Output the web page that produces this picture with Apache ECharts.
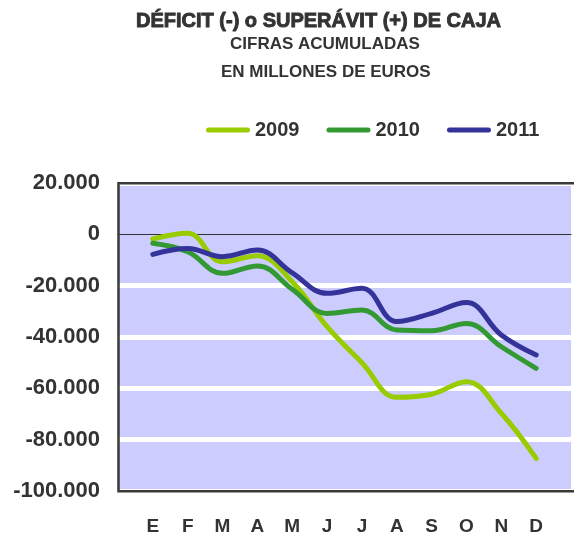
<!DOCTYPE html>
<html>
<head>
<meta charset="utf-8">
<script src="https://cdn.jsdelivr.net/npm/echarts@6/dist/echarts.min.js"></script>
<style>
  html, body { margin: 0; padding: 0; background: #fff; }
  #myChart { width: 574px; height: 536px; }
</style>
</head>
<body>
<div id="myChart"></div>
<script>
// meses
var months = ["E", "F", "M", "A", "M", "J", "J", "A", "S", "O", "N", "D"];
// millones de euros, cifras acumuladas
var data2009 = [-1800, 400, -10700, -8300, -18500, -36000, -50000, -63500, -62300, -57400, -69700, -87300];
var data2010 = [-3500, -6800, -15200, -12300, -21400, -30800, -29500, -37300, -37600, -34700, -43800, -52200];
var data2011 = [-7800, -5500, -8700, -6100, -15000, -23000, -21000, -34000, -30800, -26600, -39200, -47000];
var yTicks = [-100000, -80000, -60000, -40000, -20000, 0, 20000];

var font = "Liberation Sans, Arial, sans-serif";
var pill = "path://M2.5,0 L41.5,0 A2.5,2.5 0 0 1 41.5,5 L2.5,5 A2.5,2.5 0 0 1 2.5,0 Z";

function pairs(arr) {
  return arr.map(function (v, i) { return [i + 1, v]; });
}
function fmt(v) {
  if (v === 0) return "0";
  var s = Math.abs(v).toString().replace(/\B(?=(\d{3})+(?!\d))/g, ".");
  return (v < 0 ? "-" : "") + s;
}
function line(name, arr, color) {
  return {
    name: name,
    type: "line",
    data: pairs(arr),
    smooth: 0.4,
    showSymbol: false,
    symbol: "none",
    z: 3,
    lineStyle: { color: color, width: 5, cap: "round", join: "round" },
    itemStyle: { color: color }
  };
}

// la linea blanca del 0 no se dibuja, ahi va el eje
var gridColors = yTicks.map(function (t) { return t === 0 ? "#ccccff" : "#fff"; });

var myChart = echarts.init(document.getElementById("myChart"));
myChart.setOption({
  backgroundColor: "#fff",
  animation: false,
  title: [
    { text: "DÉFICIT (-) o SUPERÁVIT (+) DE CAJA", left: 136, top: 11, padding: 0,
      textStyle: { fontFamily: font, fontSize: 20, fontWeight: 900, color: "#333",
        textBorderColor: "#333", textBorderWidth: 0.9 } },
    { text: "CIFRAS ACUMULADAS", left: 230, top: 36, padding: 0,
      textStyle: { fontFamily: font, fontSize: 17, fontWeight: "bold", color: "#333" } },
    { text: "EN MILLONES DE EUROS", left: 221, top: 64, padding: 0,
      textStyle: { fontFamily: font, fontSize: 17, fontWeight: "bold", color: "#333" } }
  ],
  legend: {
    data: ["2009", "2010", "2011"],
    left: 206,
    top: 120,
    padding: 0,
    icon: pill,
    itemWidth: 44,
    itemHeight: 5,
    itemGap: 27,
    textStyle: { fontFamily: font, fontSize: 20, fontWeight: "bold", color: "#333" }
  },
  grid: {
    left: 118, top: 183, right: -4, bottom: 45,
    show: true, backgroundColor: "#ccccff", borderWidth: 0
  },
  xAxis: [
    {
      type: "value", min: 0, max: 13, interval: 1,
      axisLine: { show: false, onZero: false }, axisTick: { show: false }, splitLine: { show: false },
      axisLabel: {
        margin: 26,
        fontFamily: font, fontSize: 19, fontWeight: "bold", color: "#333",
        formatter: function (v) { return months[v - 1] || ""; }
      }
    },
    {
      // linea del cero
      type: "value", min: 0, max: 13, position: "bottom", z: 2,
      axisLine: { show: true, onZero: true, lineStyle: { color: "#333", width: 1 } },
      axisTick: { show: false }, axisLabel: { show: false }, splitLine: { show: false }
    }
  ],
  yAxis: {
    type: "value",
    min: yTicks[0], max: yTicks[yTicks.length - 1], interval: 20000,
    axisLine: { show: false }, axisTick: { show: false },
    splitLine: { show: true, lineStyle: { color: gridColors, width: 5 } },
    axisLabel: {
      margin: 18,
      fontFamily: font, fontSize: 22, fontWeight: "bold", color: "#333",
      formatter: fmt
    }
  },
  graphic: [
    {
      type: "rect", z: 100, silent: true,
      shape: { x: 118.5, y: 183.3, width: 470, height: 308 },
      style: { fill: "none", stroke: "#3a3a3a", lineWidth: 2.5 }
    }
  ],
  series: [
    line("2009", data2009, "#99cc00"),
    line("2010", data2010, "#339933"),
    line("2011", data2011, "#333399")
  ]
});
window.addEventListener("resize", function () {
  myChart.resize();
});
</script>
</body>
</html>
